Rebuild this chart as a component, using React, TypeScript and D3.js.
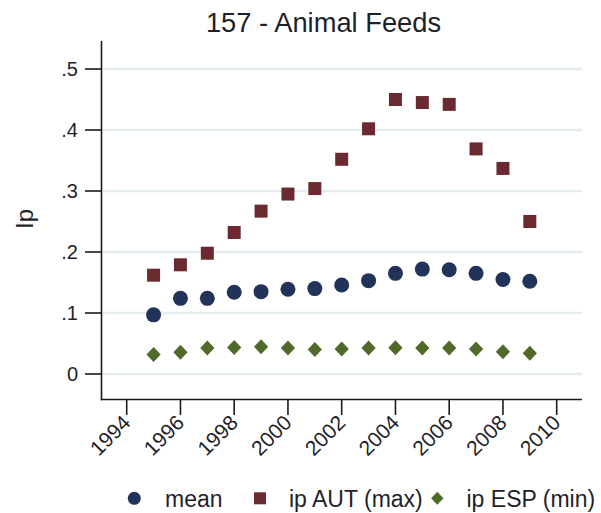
import React from "react";
import * as d3 from "d3";

const years = [1995, 1996, 1997, 1998, 1999, 2000, 2001, 2002, 2003, 2004, 2005, 2006, 2007, 2008, 2009];
const meanVals = [0.097, 0.124, 0.124, 0.134, 0.135, 0.139, 0.140, 0.146, 0.153, 0.165, 0.172, 0.171, 0.165, 0.155, 0.152];
const autVals = [0.162, 0.179, 0.198, 0.232, 0.267, 0.295, 0.304, 0.352, 0.402, 0.450, 0.445, 0.442, 0.369, 0.337, 0.250];
const espVals = [0.032, 0.0355, 0.0426, 0.0436, 0.0447, 0.0426, 0.040, 0.041, 0.0426, 0.043, 0.0426, 0.0426, 0.041, 0.0365, 0.034];
const xTicks = [1994, 1996, 1998, 2000, 2002, 2004, 2006, 2008, 2010];
const yTicks = [0, 0.1, 0.2, 0.3, 0.4, 0.5];
const yTickLabels = ["0", ".1", ".2", ".3", ".4", ".5"];
const legendLabels = ["mean", "ip AUT (max)", "ip ESP (min)"];
const title = "157 - Animal Feeds";
const yTitle = "Ip";

const C_MEAN = "#213358";
const C_AUT = "#6b2a2f";
const C_ESP = "#4f6a2a";
const FONT = "'Liberation Sans', Arial, sans-serif";

export default function App() {
  const x = d3.scaleLinear().domain([1994, 2010]).range([126.7, 556.7]);
  const y = d3.scaleLinear().domain([0, 0.5]).range([374, 69]);
  const axisX = 101.5;
  const axisY = 399.5;
  const diamondPath = (s: number) =>
    `M0,${-s}L${s * 0.95},0L0,${s}L${-s * 0.95},0Z`;

  return (
    <svg width={601} height={513} style={{ position: "absolute", left: 0, top: 0, background: "#fff" }} fontFamily={FONT}>
      <rect x={0} y={0} width={601} height={513} fill="#fff" />
      <text x={323.5} y={32} textAnchor="middle" fontSize={27.3} fill="#1f1f2a">{title}</text>
      {/* gridlines */}
      {yTicks.map((t) => (
        <line key={"g" + t} x1={axisX + 1} x2={582} y1={y(t)} y2={y(t)} stroke="#e4ecee" strokeWidth={2.5} />
      ))}
      {/* y axis */}
      <line x1={axisX} x2={axisX} y1={41} y2={axisY + 0.75} stroke="#1a1a1a" strokeWidth={1.6} />
      {yTicks.map((t, i) => (
        <g key={"yt" + t}>
          <line x1={85} x2={axisX} y1={y(t)} y2={y(t)} stroke="#1a1a1a" strokeWidth={1.6} />
          <text x={78} y={y(t) + 7} textAnchor="end" fontSize={20} fill="#1f1f2a">{yTickLabels[i]}</text>
        </g>
      ))}
      <text transform={`translate(33,219) rotate(-90)`} textAnchor="middle" fontSize={24} fill="#1f1f2a">{yTitle}</text>
      {/* x axis */}
      <line x1={axisX - 0.75} x2={582} y1={axisY} y2={axisY} stroke="#1a1a1a" strokeWidth={1.6} />
      {xTicks.map((t) => (
        <g key={"xt" + t}>
          <line x1={x(t)} x2={x(t)} y1={axisY} y2={415} stroke="#1a1a1a" strokeWidth={1.6} />
          <text transform={`translate(${x(t) + 5},${424}) rotate(-45)`} textAnchor="end" fontSize={21} fill="#1f1f2a">{t}</text>
        </g>
      ))}
      {/* points */}
      {years.map((yr, i) => (
        <circle key={"m" + yr} cx={x(yr)} cy={y(meanVals[i])} r={7.5} fill={C_MEAN} />
      ))}
      {years.map((yr, i) => (
        <rect key={"a" + yr} x={x(yr) - 6.5} y={y(autVals[i]) - 6.5} width={13} height={13} fill={C_AUT} />
      ))}
      {years.map((yr, i) => (
        <path key={"e" + yr} transform={`translate(${x(yr)},${y(espVals[i])})`} d={diamondPath(7.5)} fill={C_ESP} />
      ))}
      {/* legend */}
      <circle cx={134.3} cy={498.3} r={6.5} fill={C_MEAN} />
      <text x={165} y={506.5} fontSize={23} fill="#1f1f2a">{legendLabels[0]}</text>
      <rect x={254} y={492.3} width={12} height={12} fill={C_AUT} />
      <text x={289} y={506.5} fontSize={23} fill="#1f1f2a">{legendLabels[1]}</text>
      <path transform="translate(437.3,498.3)" d={diamondPath(6.5)} fill={C_ESP} />
      <text x={466.5} y={506.5} fontSize={23} fill="#1f1f2a">{legendLabels[2]}</text>
    </svg>
  );
}
